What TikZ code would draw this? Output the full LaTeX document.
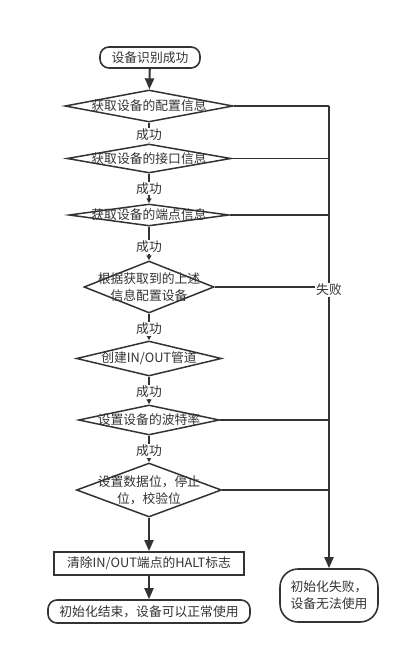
\documentclass[tikz,border=0pt]{standalone}
\usepackage{fontspec}
\usetikzlibrary{shapes.geometric,arrows.meta}
\newfontfamily\cjk{Noto Sans CJK SC}
\definecolor{flowgray}{HTML}{333333}

\begin{document}
\begin{tikzpicture}[x=1pt, y=-1pt, color=flowgray, line width=1.5pt,
        every node/.style={font=\cjk\fontsize{12.8}{17}\selectfont, text=flowgray},
        check/.style={diamond, draw, inner sep=0pt, line width=1.5pt},
        terminal/.style={rectangle, rounded corners=9pt, draw, inner sep=0pt, line width=1.6pt},
        taskbox/.style={rectangle, draw, inner sep=0pt, line width=1.8pt},
        flow/.style={-{Triangle[length=11pt,width=9pt]}, line width=2pt},
        short/.style={-{Triangle[length=5pt,width=5pt]}, line width=1.5pt},
        ok/.style={fill=white, inner sep=1pt}]
        \useasboundingbox (0,0) rectangle (410,655);

        % --- Main column ---
        \node[terminal, minimum width=100, minimum height=21] (start) at (150,57.5) {设备识别成功};
        \node[check, minimum width=168, minimum height=32, label=center:获取设备的配置信息] (getcfg) at (149,106) {};
        \node[check, minimum width=164, minimum height=29, label=center:获取设备的接口信息] (getif) at (149,158.5) {};
        \node[check, minimum width=160, minimum height=22, label=center:获取设备的端点信息] (getep) at (149,215) {};
        \node[check, minimum width=130, minimum height=52, label={[align=center]center:根据获取到的上述\\信息配置设备}] (setdev) at (149,287) {};
        \node[check, minimum width=145, minimum height=35, label=center:创建IN/OUT管道] (pipe) at (149,358.5) {};
        \node[check, minimum width=141, minimum height=30, label=center:设置设备的波特率] (baud) at (149,420) {};
        \node[check, minimum width=145, minimum height=54, label={[align=center]center:设置数据位，停止\\位，校验位}] (bits) at (149,490) {};
        \node[taskbox, minimum width=190, minimum height=23] (halt) at (149,563.5) {清除IN/OUT端点的HALT标志};
        \node[terminal, minimum width=202, minimum height=23] (done) at (149,611.5) {初始化结束，设备可以正常使用};
        % ---

        % --- Success arrows ---
        \draw[flow] (start) -- (getcfg);
        \draw[short] (getcfg) -- node[ok, pos=0.6] (ok1) {成功} (getif);
        \draw[short] (getif) -- node[ok, pos=0.5] (ok2) {成功} (getep);
        \draw[short] (getep) -- node[ok, pos=0.6] (ok3) {成功} (setdev);
        \draw[short] (setdev) -- node[ok, pos=0.57] (ok4) {成功} (pipe);
        \draw[short] (pipe) -- node[ok, pos=0.55] (ok5) {成功} (baud);
        \draw[short] (baud) -- node[ok, pos=0.58] (ok6) {成功} (bits);
        \draw[flow] (bits) -- (halt);
        \draw[flow] (halt) -- (done);
        % ---

        % --- Failure branch ---
        \node[terminal, rounded corners=18pt, minimum width=98, minimum height=53, align=center] (fail) at (329,595.5) {初始化失败，\\设备无法使用};
        \coordinate (failtop) at (fail.north |- getcfg.east);
        \draw (getcfg.east) -- (failtop);
        \draw[flow] (failtop) -- (fail.north);
        \foreach \n in {getif,getep,setdev,baud,bits}
            \draw (\n.east) -- (\n.east -| failtop);
        \node[ok] (failtxt) at ([yshift=-3pt]setdev.east -| failtop) {失败};
        % ---
\end{tikzpicture}
\end{document}
